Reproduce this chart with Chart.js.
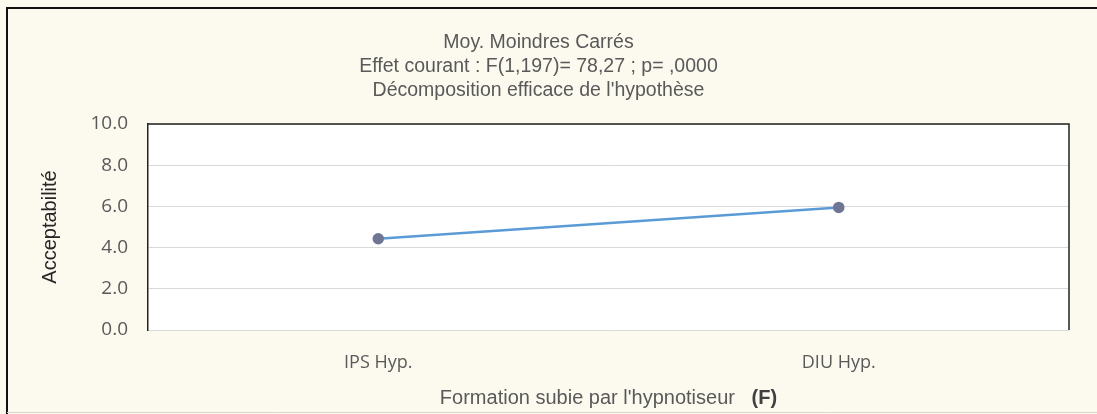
<!DOCTYPE html>
<html lang="fr">
<head>
<meta charset="UTF-8">
<title>Moy. Moindres Carrés</title>
<script src="https://cdn.jsdelivr.net/npm/chart.js"></script>
<style>
  html, body { margin: 0; padding: 0; background: #fcf9ef; overflow: hidden; }
  .container { width: 1097px; height: 414px; }
</style>
</head>
<body>
<div class="container">
  <canvas id="graficoMoy"></canvas>
</div>

<script>
  // donnees
  const categories = ['IPS Hyp.', 'DIU Hyp.'];
  const acceptabilite = [4.43, 5.95];
  const titreLignes = ['Moy. Moindres Carrés', 'Effet courant : F(1,197)= 78,27 ; p= ,0000', "Décomposition efficace de l'hypothèse"];
  const titreX = "Formation subie par l'hypnotiseur";
  const titreXGras = '(F)';
  const titreY = 'Acceptabilité';
  const yMin = 0, yMax = 10, yPas = 2;

  // fond creme, zone blanche, cadres
  const fondPlugin = {
    id: 'fond',
    beforeDraw(chart) {
      const { ctx, chartArea: a, width, height } = chart;
      ctx.save();
      ctx.fillStyle = '#fcf9ef';
      ctx.fillRect(0, 0, width, height);
      ctx.fillStyle = '#ffffff';
      ctx.fillRect(a.left, a.top, a.right - a.left, a.bottom - a.top);
      ctx.strokeStyle = '#111';
      ctx.lineWidth = 2;
      ctx.beginPath();
      ctx.moveTo(7, height);
      ctx.lineTo(7, 8);
      ctx.lineTo(width, 8);
      ctx.stroke();
      ctx.strokeStyle = '#d8d6cf';
      ctx.lineWidth = 1;
      ctx.beginPath();
      ctx.moveTo(7, height - 1.5);
      ctx.lineTo(width, height - 1.5);
      ctx.stroke();
      ctx.restore();
    },
    afterDraw(chart) {
      const { ctx, chartArea: a } = chart;
      ctx.save();
      ctx.strokeStyle = '#222';
      ctx.lineWidth = 1.5;
      ctx.beginPath();
      ctx.moveTo(a.left, a.top);
      ctx.lineTo(a.right, a.top);
      ctx.lineTo(a.right, a.bottom);
      ctx.stroke();
      // titre de l'axe X avec (F) en gras
      const y = 398;
      const cx = (a.left + a.right) / 2;
      ctx.textBaseline = 'middle';
      ctx.font = '20px "Liberation Sans", Arial, sans-serif';
      const w1 = ctx.measureText(titreX + '   ').width;
      ctx.font = 'bold 20px "Liberation Sans", Arial, sans-serif';
      const w2 = ctx.measureText(titreXGras).width;
      let x = cx - (w1 + w2) / 2;
      ctx.textAlign = 'left';
      ctx.font = '20px "Liberation Sans", Arial, sans-serif';
      ctx.fillStyle = '#595959';
      ctx.fillText(titreX + '   ', x, y);
      ctx.font = 'bold 20px "Liberation Sans", Arial, sans-serif';
      ctx.fillStyle = '#404040';
      ctx.fillText(titreXGras, x + w1, y);
      ctx.restore();
    }
  };

  var grafico = document.getElementById('graficoMoy');
  var lineChart = new Chart(grafico, {
    type: 'line',
    data: {
      labels: categories,
      datasets: [{
        label: titreY,
        data: acceptabilite,
        borderColor: '#5b9bd5',
        borderWidth: 2.5,
        backgroundColor: '#6e7694',
        pointBackgroundColor: '#6e7694',
        pointBorderColor: '#6e7694',
        pointRadius: 4.5,
        tension: 0
      }]
    },
    options: {
      responsive: true,
      maintainAspectRatio: false,
      animation: false,
      layout: { padding: { top: 0, left: 8, right: 28, bottom: 0 } },
      plugins: {
        legend: { display: false },
        tooltip: { enabled: false },
        title: {
          display: true,
          text: titreLignes,
          color: '#595959',
          font: { family: '"Liberation Sans", Arial, sans-serif', size: 19.5, weight: 'normal', lineHeight: '24px' },
          padding: { top: 31, bottom: 21 }
        }
      },
      scales: {
        x: {
          offset: true,
          grid: { display: false, drawTicks: false },
          border: { display: false },
          ticks: {
            color: '#595959',
            padding: 22,
            font: { family: '"Open Sans", sans-serif', size: 18 }
          },
          afterFit(scale) { scale.height = 84; }
        },
        y: {
          min: yMin,
          max: yMax,
          ticks: {
            stepSize: yPas,
            color: '#595959',
            padding: 20,
            font: { family: '"Open Sans", sans-serif', size: 19 },
            callback: (v) => Number(v).toFixed(1)
          },
          grid: { color: '#d9d9d9', lineWidth: 1, drawTicks: false },
          border: { display: true, color: '#222', width: 1.5 },
          title: {
            display: true,
            text: titreY,
            color: '#262626',
            font: { family: '"Liberation Sans", Arial, sans-serif', size: 20 },
            padding: { top: 30, bottom: 0 }
          },
          afterFit(scale) { scale.width = 140; }
        }
      }
    },
    plugins: [fondPlugin]
  });
</script>
</body>
</html>
